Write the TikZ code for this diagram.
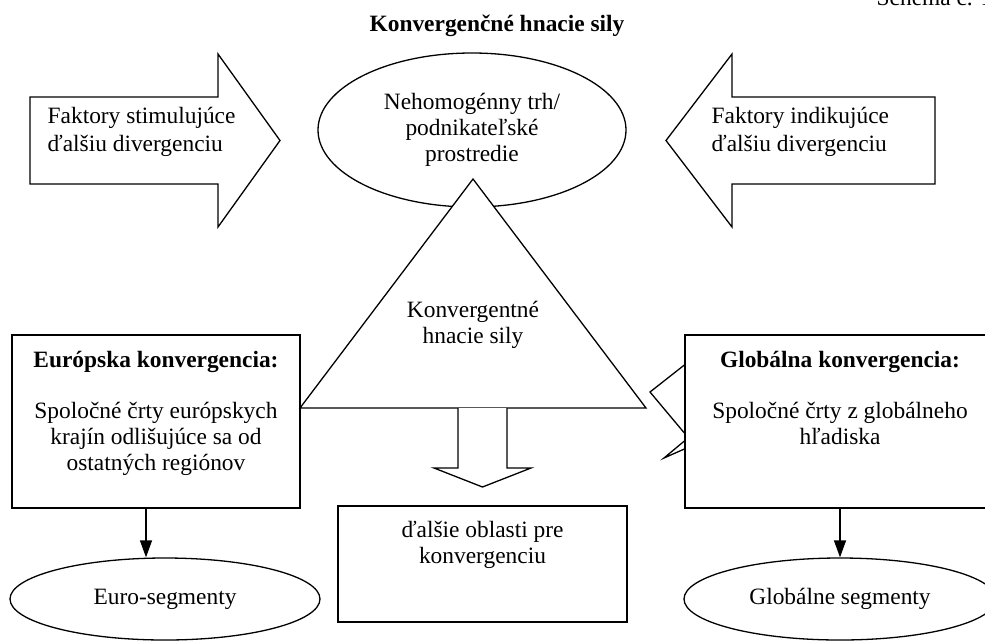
\documentclass[tikz,border=0pt]{standalone}
\usepackage{fontspec}
\setmainfont{Liberation Serif}
\usepackage{tikz}
\usetikzlibrary{shapes.geometric, arrows.meta, positioning}
\tikzstyle{arrow} = [line width=1.3pt,-{Triangle[length=17pt,width=12pt]}]
\tikzstyle{box} = [draw, line width=1.3pt, rectangle, minimum height=173pt]
\tikzstyle{oval} = [draw, line width=1.3pt, ellipse, fill=white]
\tikzstyle{txt} = [align=center, anchor=north]

\begin{document}
\begin{tikzpicture}[x=1pt, y=-1pt, line width=1.3pt, every node/.style={font=\fontsize{23.4}{26}\selectfont, inner sep=0pt}]
            \clip (0,0) rectangle (985,641);

            \node[anchor=base] (title) at (497,31) {\textbf{Konvergenčné hnacie sily}};
            \node[anchor=base west] (schema) at (876,5) {Schéma č. 1};

            % fat arrows on top
            \draw[fill=white] (30,97) -- (218,97) -- (218,54) -- (280,140.5) -- (218,227) -- (218,184) -- (30,184) -- cycle;
            \node[align=left, anchor=north west, font=\fontsize{23.4}{28}\selectfont] (stim) at (47,107) {Faktory stimulujúce\\ďalšiu divergenciu};
            \draw[fill=white] (935,97) -- (732,97) -- (732,54) -- (666,140.5) -- (732,227) -- (732,184) -- (935,184) -- cycle;
            \node[align=left, anchor=north west, font=\fontsize{23.4}{28}\selectfont] (indik) at (711,107) {Faktory indikujúce\\ďalšiu divergenciu};

            \node[oval, align=center, minimum width=308pt, minimum height=154pt] (trh) at (472,130) {Nehomogénny trh/\\podnikateľské\\prostredie};

            % triangle
            \draw[fill=white] (473,179) -- (646,408) -- (300,408) -- cycle;
            \node[txt] (sily) at (473,301) {Konvergentné\\hnacie sily};
            \draw[fill=white] (458,408) -- (458,468) -- (434,468) -- (482.5,487) -- (531,468) -- (507,468) -- (507,408);

            \node[box, minimum width=289pt, minimum height=116pt] (oblasti) at (482.5,564) {};
            \node[txt] (oblastitxt) at (482.5,521) {ďalšie oblasti pre\\konvergenciu};

            \node[box, minimum width=288pt] (euro) at (156,421.5) {};
            \node[txt] (eurotxt) at (156,350.3) {\textbf{Európska konvergencia:}\\[25pt]Spoločné črty európskych\\krajín odlišujúce sa od\\ostatných regiónov};

            \node[box, minimum width=310pt] (glob) at (840,421.5) {};
            \node[txt] (globtxt) at (840,350.3) {\textbf{Globálna konvergencia:}\\[25pt]Spoločné črty z globálneho\\hľadiska};
            \draw (glob.west |- 0,365) -- (650,392) -- (glob.west |- 0,433);
            \draw (glob.west |- 0,441) -- (664,458) -- (glob.west |- 0,449);

            \node[oval, minimum width=310pt, minimum height=82pt] (eurosegs) at (165,599) {Euro-segmenty};
            \node[oval, minimum width=312pt, minimum height=82pt] (globsegs) at (840,599) {Globálne segmenty};

            \draw[arrow] ([xshift=-10pt]euro.south) -- ([xshift=-10pt]euro.south |- eurosegs.north);
            \draw[arrow] (glob.south) -- (globsegs.north);
        \end{tikzpicture}
\end{document}
